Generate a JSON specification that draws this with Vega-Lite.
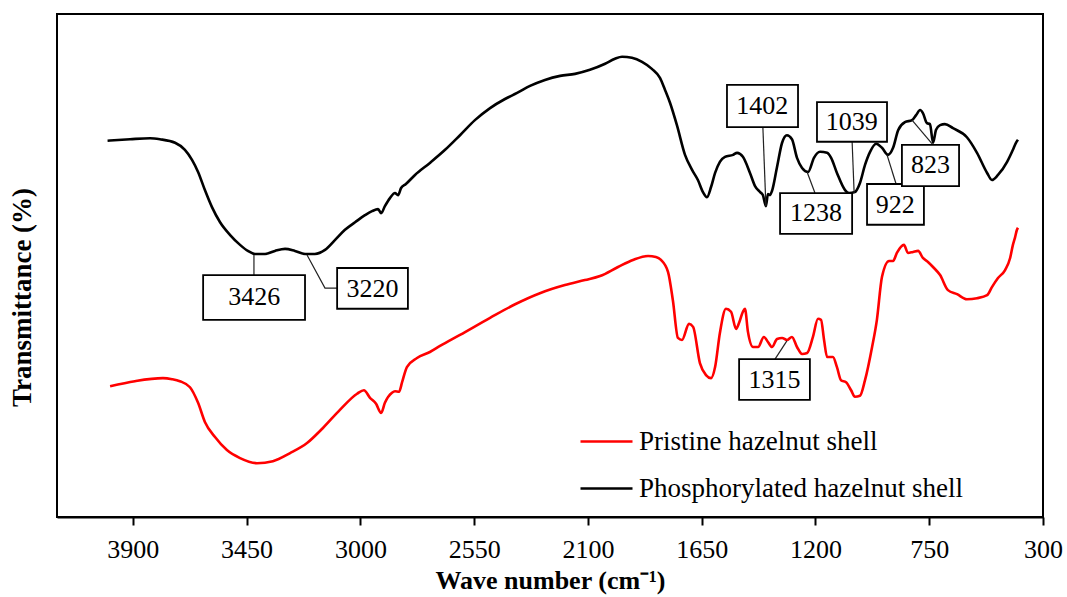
{
  "$schema": "https://vega.github.io/schema/vega-lite/v6.json",
  "width": 986,
  "height": 503,
  "autosize": {"type": "none"},
  "padding": {"left": 57, "top": 14, "right": 24, "bottom": 80},
  "background": "white",
  "config": {
    "view": {"stroke": "#000000", "strokeWidth": 2},
    "font": "Liberation Serif",
    "axis": {"grid": false, "labelFont": "Liberation Serif", "titleFont": "Liberation Serif", "labelColor": "#000000", "titleColor": "#000000"}
  },
  "datasets": {
    "spectra": [
      {"sample": "Phosphorylated hazelnut shell", "wn": 4000, "T": 74.8},
      {"sample": "Phosphorylated hazelnut shell", "wn": 3911, "T": 75.1},
      {"sample": "Phosphorylated hazelnut shell", "wn": 3832, "T": 75.3},
      {"sample": "Phosphorylated hazelnut shell", "wn": 3793, "T": 75.1},
      {"sample": "Phosphorylated hazelnut shell", "wn": 3733, "T": 74.4},
      {"sample": "Phosphorylated hazelnut shell", "wn": 3694, "T": 73.0},
      {"sample": "Phosphorylated hazelnut shell", "wn": 3666, "T": 71.0},
      {"sample": "Phosphorylated hazelnut shell", "wn": 3642, "T": 68.6},
      {"sample": "Phosphorylated hazelnut shell", "wn": 3615, "T": 65.0},
      {"sample": "Phosphorylated hazelnut shell", "wn": 3587, "T": 61.6},
      {"sample": "Phosphorylated hazelnut shell", "wn": 3555, "T": 58.6},
      {"sample": "Phosphorylated hazelnut shell", "wn": 3516, "T": 56.1},
      {"sample": "Phosphorylated hazelnut shell", "wn": 3476, "T": 54.1},
      {"sample": "Phosphorylated hazelnut shell", "wn": 3445, "T": 52.9},
      {"sample": "Phosphorylated hazelnut shell", "wn": 3417, "T": 52.3},
      {"sample": "Phosphorylated hazelnut shell", "wn": 3377, "T": 52.3},
      {"sample": "Phosphorylated hazelnut shell", "wn": 3338, "T": 52.9},
      {"sample": "Phosphorylated hazelnut shell", "wn": 3298, "T": 53.3},
      {"sample": "Phosphorylated hazelnut shell", "wn": 3259, "T": 52.9},
      {"sample": "Phosphorylated hazelnut shell", "wn": 3219, "T": 52.3},
      {"sample": "Phosphorylated hazelnut shell", "wn": 3180, "T": 52.3},
      {"sample": "Phosphorylated hazelnut shell", "wn": 3140, "T": 53.1},
      {"sample": "Phosphorylated hazelnut shell", "wn": 3100, "T": 55.1},
      {"sample": "Phosphorylated hazelnut shell", "wn": 3061, "T": 57.1},
      {"sample": "Phosphorylated hazelnut shell", "wn": 3021, "T": 58.6},
      {"sample": "Phosphorylated hazelnut shell", "wn": 2982, "T": 60.0},
      {"sample": "Phosphorylated hazelnut shell", "wn": 2954, "T": 60.8},
      {"sample": "Phosphorylated hazelnut shell", "wn": 2930, "T": 61.2},
      {"sample": "Phosphorylated hazelnut shell", "wn": 2918, "T": 60.4},
      {"sample": "Phosphorylated hazelnut shell", "wn": 2903, "T": 61.8},
      {"sample": "Phosphorylated hazelnut shell", "wn": 2883, "T": 63.4},
      {"sample": "Phosphorylated hazelnut shell", "wn": 2863, "T": 64.4},
      {"sample": "Phosphorylated hazelnut shell", "wn": 2851, "T": 64.0},
      {"sample": "Phosphorylated hazelnut shell", "wn": 2839, "T": 65.4},
      {"sample": "Phosphorylated hazelnut shell", "wn": 2820, "T": 66.2},
      {"sample": "Phosphorylated hazelnut shell", "wn": 2784, "T": 68.0},
      {"sample": "Phosphorylated hazelnut shell", "wn": 2725, "T": 70.4},
      {"sample": "Phosphorylated hazelnut shell", "wn": 2665, "T": 73.0},
      {"sample": "Phosphorylated hazelnut shell", "wn": 2606, "T": 75.9},
      {"sample": "Phosphorylated hazelnut shell", "wn": 2547, "T": 78.9},
      {"sample": "Phosphorylated hazelnut shell", "wn": 2487, "T": 81.3},
      {"sample": "Phosphorylated hazelnut shell", "wn": 2428, "T": 83.1},
      {"sample": "Phosphorylated hazelnut shell", "wn": 2380, "T": 84.3},
      {"sample": "Phosphorylated hazelnut shell", "wn": 2329, "T": 85.7},
      {"sample": "Phosphorylated hazelnut shell", "wn": 2270, "T": 86.9},
      {"sample": "Phosphorylated hazelnut shell", "wn": 2210, "T": 87.7},
      {"sample": "Phosphorylated hazelnut shell", "wn": 2151, "T": 88.1},
      {"sample": "Phosphorylated hazelnut shell", "wn": 2092, "T": 88.9},
      {"sample": "Phosphorylated hazelnut shell", "wn": 2032, "T": 90.1},
      {"sample": "Phosphorylated hazelnut shell", "wn": 1993, "T": 91.1},
      {"sample": "Phosphorylated hazelnut shell", "wn": 1965, "T": 91.5},
      {"sample": "Phosphorylated hazelnut shell", "wn": 1926, "T": 91.3},
      {"sample": "Phosphorylated hazelnut shell", "wn": 1886, "T": 90.5},
      {"sample": "Phosphorylated hazelnut shell", "wn": 1847, "T": 89.1},
      {"sample": "Phosphorylated hazelnut shell", "wn": 1815, "T": 87.3},
      {"sample": "Phosphorylated hazelnut shell", "wn": 1795, "T": 84.9},
      {"sample": "Phosphorylated hazelnut shell", "wn": 1775, "T": 82.3},
      {"sample": "Phosphorylated hazelnut shell", "wn": 1748, "T": 77.9},
      {"sample": "Phosphorylated hazelnut shell", "wn": 1716, "T": 72.0},
      {"sample": "Phosphorylated hazelnut shell", "wn": 1688, "T": 69.0},
      {"sample": "Phosphorylated hazelnut shell", "wn": 1665, "T": 67.0},
      {"sample": "Phosphorylated hazelnut shell", "wn": 1645, "T": 64.6},
      {"sample": "Phosphorylated hazelnut shell", "wn": 1629, "T": 63.6},
      {"sample": "Phosphorylated hazelnut shell", "wn": 1613, "T": 65.6},
      {"sample": "Phosphorylated hazelnut shell", "wn": 1597, "T": 68.4},
      {"sample": "Phosphorylated hazelnut shell", "wn": 1578, "T": 70.6},
      {"sample": "Phosphorylated hazelnut shell", "wn": 1558, "T": 71.6},
      {"sample": "Phosphorylated hazelnut shell", "wn": 1526, "T": 72.0},
      {"sample": "Phosphorylated hazelnut shell", "wn": 1510, "T": 72.4},
      {"sample": "Phosphorylated hazelnut shell", "wn": 1487, "T": 71.6},
      {"sample": "Phosphorylated hazelnut shell", "wn": 1459, "T": 68.4},
      {"sample": "Phosphorylated hazelnut shell", "wn": 1439, "T": 65.8},
      {"sample": "Phosphorylated hazelnut shell", "wn": 1419, "T": 64.6},
      {"sample": "Phosphorylated hazelnut shell", "wn": 1408, "T": 64.0},
      {"sample": "Phosphorylated hazelnut shell", "wn": 1396, "T": 61.8},
      {"sample": "Phosphorylated hazelnut shell", "wn": 1388, "T": 64.2},
      {"sample": "Phosphorylated hazelnut shell", "wn": 1380, "T": 64.0},
      {"sample": "Phosphorylated hazelnut shell", "wn": 1372, "T": 64.8},
      {"sample": "Phosphorylated hazelnut shell", "wn": 1352, "T": 69.6},
      {"sample": "Phosphorylated hazelnut shell", "wn": 1332, "T": 74.4},
      {"sample": "Phosphorylated hazelnut shell", "wn": 1313, "T": 75.9},
      {"sample": "Phosphorylated hazelnut shell", "wn": 1293, "T": 75.1},
      {"sample": "Phosphorylated hazelnut shell", "wn": 1273, "T": 71.4},
      {"sample": "Phosphorylated hazelnut shell", "wn": 1253, "T": 69.4},
      {"sample": "Phosphorylated hazelnut shell", "wn": 1229, "T": 68.6},
      {"sample": "Phosphorylated hazelnut shell", "wn": 1206, "T": 71.4},
      {"sample": "Phosphorylated hazelnut shell", "wn": 1182, "T": 72.6},
      {"sample": "Phosphorylated hazelnut shell", "wn": 1154, "T": 72.4},
      {"sample": "Phosphorylated hazelnut shell", "wn": 1138, "T": 71.4},
      {"sample": "Phosphorylated hazelnut shell", "wn": 1115, "T": 68.4},
      {"sample": "Phosphorylated hazelnut shell", "wn": 1083, "T": 65.0},
      {"sample": "Phosphorylated hazelnut shell", "wn": 1067, "T": 64.4},
      {"sample": "Phosphorylated hazelnut shell", "wn": 1044, "T": 64.6},
      {"sample": "Phosphorylated hazelnut shell", "wn": 1024, "T": 66.4},
      {"sample": "Phosphorylated hazelnut shell", "wn": 1004, "T": 70.0},
      {"sample": "Phosphorylated hazelnut shell", "wn": 984, "T": 72.6},
      {"sample": "Phosphorylated hazelnut shell", "wn": 960, "T": 74.2},
      {"sample": "Phosphorylated hazelnut shell", "wn": 937, "T": 73.4},
      {"sample": "Phosphorylated hazelnut shell", "wn": 913, "T": 72.0},
      {"sample": "Phosphorylated hazelnut shell", "wn": 893, "T": 73.4},
      {"sample": "Phosphorylated hazelnut shell", "wn": 873, "T": 76.9},
      {"sample": "Phosphorylated hazelnut shell", "wn": 846, "T": 78.5},
      {"sample": "Phosphorylated hazelnut shell", "wn": 818, "T": 78.9},
      {"sample": "Phosphorylated hazelnut shell", "wn": 802, "T": 79.9},
      {"sample": "Phosphorylated hazelnut shell", "wn": 786, "T": 80.9},
      {"sample": "Phosphorylated hazelnut shell", "wn": 775, "T": 80.3},
      {"sample": "Phosphorylated hazelnut shell", "wn": 759, "T": 78.3},
      {"sample": "Phosphorylated hazelnut shell", "wn": 747, "T": 78.1},
      {"sample": "Phosphorylated hazelnut shell", "wn": 735, "T": 74.4},
      {"sample": "Phosphorylated hazelnut shell", "wn": 723, "T": 77.0},
      {"sample": "Phosphorylated hazelnut shell", "wn": 707, "T": 77.9},
      {"sample": "Phosphorylated hazelnut shell", "wn": 688, "T": 78.1},
      {"sample": "Phosphorylated hazelnut shell", "wn": 656, "T": 77.3},
      {"sample": "Phosphorylated hazelnut shell", "wn": 601, "T": 75.5},
      {"sample": "Phosphorylated hazelnut shell", "wn": 561, "T": 72.4},
      {"sample": "Phosphorylated hazelnut shell", "wn": 521, "T": 68.4},
      {"sample": "Phosphorylated hazelnut shell", "wn": 502, "T": 67.0},
      {"sample": "Phosphorylated hazelnut shell", "wn": 478, "T": 68.0},
      {"sample": "Phosphorylated hazelnut shell", "wn": 442, "T": 70.6},
      {"sample": "Phosphorylated hazelnut shell", "wn": 419, "T": 73.0},
      {"sample": "Phosphorylated hazelnut shell", "wn": 407, "T": 74.4},
      {"sample": "Phosphorylated hazelnut shell", "wn": 399, "T": 75.0},

      {"sample": "Pristine hazelnut shell", "wn": 3990, "T": 26.0},
      {"sample": "Pristine hazelnut shell", "wn": 3892, "T": 27.0},
      {"sample": "Pristine hazelnut shell", "wn": 3781, "T": 27.6},
      {"sample": "Pristine hazelnut shell", "wn": 3745, "T": 27.4},
      {"sample": "Pristine hazelnut shell", "wn": 3714, "T": 27.0},
      {"sample": "Pristine hazelnut shell", "wn": 3674, "T": 25.8},
      {"sample": "Pristine hazelnut shell", "wn": 3642, "T": 22.7},
      {"sample": "Pristine hazelnut shell", "wn": 3615, "T": 18.9},
      {"sample": "Pristine hazelnut shell", "wn": 3575, "T": 15.9},
      {"sample": "Pristine hazelnut shell", "wn": 3528, "T": 13.3},
      {"sample": "Pristine hazelnut shell", "wn": 3476, "T": 11.7},
      {"sample": "Pristine hazelnut shell", "wn": 3409, "T": 10.7},
      {"sample": "Pristine hazelnut shell", "wn": 3346, "T": 11.1},
      {"sample": "Pristine hazelnut shell", "wn": 3278, "T": 12.7},
      {"sample": "Pristine hazelnut shell", "wn": 3211, "T": 14.7},
      {"sample": "Pristine hazelnut shell", "wn": 3148, "T": 17.7},
      {"sample": "Pristine hazelnut shell", "wn": 3081, "T": 21.3},
      {"sample": "Pristine hazelnut shell", "wn": 3013, "T": 24.5},
      {"sample": "Pristine hazelnut shell", "wn": 2986, "T": 25.2},
      {"sample": "Pristine hazelnut shell", "wn": 2962, "T": 23.7},
      {"sample": "Pristine hazelnut shell", "wn": 2938, "T": 22.5},
      {"sample": "Pristine hazelnut shell", "wn": 2918, "T": 20.7},
      {"sample": "Pristine hazelnut shell", "wn": 2903, "T": 22.7},
      {"sample": "Pristine hazelnut shell", "wn": 2875, "T": 24.7},
      {"sample": "Pristine hazelnut shell", "wn": 2863, "T": 25.0},
      {"sample": "Pristine hazelnut shell", "wn": 2847, "T": 24.9},
      {"sample": "Pristine hazelnut shell", "wn": 2835, "T": 26.8},
      {"sample": "Pristine hazelnut shell", "wn": 2816, "T": 29.8},
      {"sample": "Pristine hazelnut shell", "wn": 2776, "T": 31.6},
      {"sample": "Pristine hazelnut shell", "wn": 2725, "T": 32.8},
      {"sample": "Pristine hazelnut shell", "wn": 2685, "T": 34.0},
      {"sample": "Pristine hazelnut shell", "wn": 2606, "T": 36.2},
      {"sample": "Pristine hazelnut shell", "wn": 2487, "T": 39.6},
      {"sample": "Pristine hazelnut shell", "wn": 2388, "T": 42.3},
      {"sample": "Pristine hazelnut shell", "wn": 2290, "T": 44.5},
      {"sample": "Pristine hazelnut shell", "wn": 2191, "T": 46.1},
      {"sample": "Pristine hazelnut shell", "wn": 2112, "T": 47.1},
      {"sample": "Pristine hazelnut shell", "wn": 2052, "T": 47.9},
      {"sample": "Pristine hazelnut shell", "wn": 1981, "T": 49.7},
      {"sample": "Pristine hazelnut shell", "wn": 1922, "T": 51.1},
      {"sample": "Pristine hazelnut shell", "wn": 1862, "T": 51.9},
      {"sample": "Pristine hazelnut shell", "wn": 1831, "T": 51.7},
      {"sample": "Pristine hazelnut shell", "wn": 1811, "T": 51.1},
      {"sample": "Pristine hazelnut shell", "wn": 1783, "T": 48.7},
      {"sample": "Pristine hazelnut shell", "wn": 1764, "T": 43.1},
      {"sample": "Pristine hazelnut shell", "wn": 1744, "T": 35.6},
      {"sample": "Pristine hazelnut shell", "wn": 1728, "T": 35.2},
      {"sample": "Pristine hazelnut shell", "wn": 1700, "T": 38.4},
      {"sample": "Pristine hazelnut shell", "wn": 1684, "T": 37.8},
      {"sample": "Pristine hazelnut shell", "wn": 1657, "T": 30.6},
      {"sample": "Pristine hazelnut shell", "wn": 1633, "T": 28.2},
      {"sample": "Pristine hazelnut shell", "wn": 1613, "T": 27.6},
      {"sample": "Pristine hazelnut shell", "wn": 1597, "T": 29.8},
      {"sample": "Pristine hazelnut shell", "wn": 1578, "T": 36.6},
      {"sample": "Pristine hazelnut shell", "wn": 1554, "T": 41.4},
      {"sample": "Pristine hazelnut shell", "wn": 1534, "T": 40.8},
      {"sample": "Pristine hazelnut shell", "wn": 1514, "T": 37.4},
      {"sample": "Pristine hazelnut shell", "wn": 1502, "T": 38.6},
      {"sample": "Pristine hazelnut shell", "wn": 1487, "T": 40.8},
      {"sample": "Pristine hazelnut shell", "wn": 1479, "T": 41.4},
      {"sample": "Pristine hazelnut shell", "wn": 1467, "T": 36.8},
      {"sample": "Pristine hazelnut shell", "wn": 1447, "T": 33.8},
      {"sample": "Pristine hazelnut shell", "wn": 1427, "T": 33.8},
      {"sample": "Pristine hazelnut shell", "wn": 1404, "T": 35.8},
      {"sample": "Pristine hazelnut shell", "wn": 1388, "T": 34.8},
      {"sample": "Pristine hazelnut shell", "wn": 1372, "T": 33.8},
      {"sample": "Pristine hazelnut shell", "wn": 1352, "T": 35.4},
      {"sample": "Pristine hazelnut shell", "wn": 1332, "T": 35.6},
      {"sample": "Pristine hazelnut shell", "wn": 1313, "T": 35.2},
      {"sample": "Pristine hazelnut shell", "wn": 1293, "T": 35.8},
      {"sample": "Pristine hazelnut shell", "wn": 1273, "T": 33.8},
      {"sample": "Pristine hazelnut shell", "wn": 1253, "T": 32.4},
      {"sample": "Pristine hazelnut shell", "wn": 1233, "T": 32.6},
      {"sample": "Pristine hazelnut shell", "wn": 1210, "T": 35.8},
      {"sample": "Pristine hazelnut shell", "wn": 1190, "T": 39.4},
      {"sample": "Pristine hazelnut shell", "wn": 1178, "T": 39.2},
      {"sample": "Pristine hazelnut shell", "wn": 1166, "T": 35.2},
      {"sample": "Pristine hazelnut shell", "wn": 1154, "T": 31.8},
      {"sample": "Pristine hazelnut shell", "wn": 1131, "T": 31.8},
      {"sample": "Pristine hazelnut shell", "wn": 1115, "T": 29.8},
      {"sample": "Pristine hazelnut shell", "wn": 1099, "T": 27.2},
      {"sample": "Pristine hazelnut shell", "wn": 1079, "T": 26.8},
      {"sample": "Pristine hazelnut shell", "wn": 1059, "T": 25.2},
      {"sample": "Pristine hazelnut shell", "wn": 1044, "T": 23.9},
      {"sample": "Pristine hazelnut shell", "wn": 1024, "T": 24.1},
      {"sample": "Pristine hazelnut shell", "wn": 1004, "T": 27.2},
      {"sample": "Pristine hazelnut shell", "wn": 976, "T": 33.8},
      {"sample": "Pristine hazelnut shell", "wn": 957, "T": 39.2},
      {"sample": "Pristine hazelnut shell", "wn": 937, "T": 47.7},
      {"sample": "Pristine hazelnut shell", "wn": 909, "T": 50.9},
      {"sample": "Pristine hazelnut shell", "wn": 893, "T": 50.9},
      {"sample": "Pristine hazelnut shell", "wn": 878, "T": 52.5},
      {"sample": "Pristine hazelnut shell", "wn": 850, "T": 54.1},
      {"sample": "Pristine hazelnut shell", "wn": 834, "T": 52.5},
      {"sample": "Pristine hazelnut shell", "wn": 814, "T": 52.7},
      {"sample": "Pristine hazelnut shell", "wn": 794, "T": 52.9},
      {"sample": "Pristine hazelnut shell", "wn": 775, "T": 51.5},
      {"sample": "Pristine hazelnut shell", "wn": 755, "T": 50.7},
      {"sample": "Pristine hazelnut shell", "wn": 735, "T": 49.7},
      {"sample": "Pristine hazelnut shell", "wn": 707, "T": 48.1},
      {"sample": "Pristine hazelnut shell", "wn": 676, "T": 45.1},
      {"sample": "Pristine hazelnut shell", "wn": 640, "T": 44.3},
      {"sample": "Pristine hazelnut shell", "wn": 601, "T": 43.3},
      {"sample": "Pristine hazelnut shell", "wn": 561, "T": 43.5},
      {"sample": "Pristine hazelnut shell", "wn": 521, "T": 44.1},
      {"sample": "Pristine hazelnut shell", "wn": 502, "T": 45.7},
      {"sample": "Pristine hazelnut shell", "wn": 478, "T": 47.5},
      {"sample": "Pristine hazelnut shell", "wn": 450, "T": 49.1},
      {"sample": "Pristine hazelnut shell", "wn": 430, "T": 51.5},
      {"sample": "Pristine hazelnut shell", "wn": 419, "T": 54.1},
      {"sample": "Pristine hazelnut shell", "wn": 411, "T": 55.5},
      {"sample": "Pristine hazelnut shell", "wn": 403, "T": 57.1},
      {"sample": "Pristine hazelnut shell", "wn": 399, "T": 57.5}
    ],
    "peaks": [
      {"label": "3426", "wn": 3420, "T": 43.7, "wn1": 3622, "wn2": 3219, "T1": 48.1, "T2": 39.2},
      {"label": "3220", "wn": 2952, "T": 45.4, "wn1": 3092, "wn2": 2812, "T1": 49.5, "T2": 41.4},
      {"label": "1402", "wn": 1410, "T": 81.7, "wn1": 1550, "wn2": 1269, "T1": 85.9, "T2": 77.5},
      {"label": "1039", "wn": 1056, "T": 78.5, "wn1": 1194, "wn2": 917, "T1": 82.5, "T2": 74.6},
      {"label": "1238", "wn": 1198, "T": 60.4, "wn1": 1340, "wn2": 1055, "T1": 64.4, "T2": 56.3},
      {"label": "922", "wn": 884, "T": 62.1, "wn1": 996, "wn2": 771, "T1": 66.2, "T2": 58.1},
      {"label": "823", "wn": 745, "T": 69.9, "wn1": 858, "wn2": 632, "T1": 74.0, "T2": 65.8},
      {"label": "1315", "wn": 1362, "T": 27.3, "wn1": 1502, "wn2": 1222, "T1": 31.4, "T2": 23.3}
    ],
    "leaders": [
      {"label": "3426", "k": 0, "wn": 3421, "T": 52.1},
      {"label": "3426", "k": 1, "wn": 3421, "T": 48.1},
      {"label": "3220", "k": 0, "wn": 3211, "T": 52.1},
      {"label": "3220", "k": 1, "wn": 3140, "T": 45.5},
      {"label": "3220", "k": 2, "wn": 3092, "T": 45.5},
      {"label": "1402", "k": 0, "wn": 1408, "T": 77.5},
      {"label": "1402", "k": 1, "wn": 1396, "T": 61.8},
      {"label": "1039", "k": 0, "wn": 1055, "T": 74.6},
      {"label": "1039", "k": 1, "wn": 1047, "T": 64.4},
      {"label": "1238", "k": 0, "wn": 1202, "T": 64.4},
      {"label": "1238", "k": 1, "wn": 1233, "T": 68.6},
      {"label": "922", "k": 0, "wn": 881, "T": 66.2},
      {"label": "922", "k": 1, "wn": 917, "T": 72.0},
      {"label": "823", "k": 0, "wn": 735, "T": 74.0},
      {"label": "823", "k": 1, "wn": 818, "T": 78.9},
      {"label": "1315", "k": 0, "wn": 1360, "T": 31.4},
      {"label": "1315", "k": 1, "wn": 1313, "T": 35.0}
    ]
  },
  "layer": [
    {
      "data": {"name": "spectra"},
      "mark": {"type": "line", "strokeWidth": 2.6, "interpolate": "monotone"},
      "encoding": {
        "x": {
          "field": "wn",
          "type": "quantitative",
          "scale": {"domain": [300, 4200], "reverse": true, "nice": false, "zero": false},
          "axis": {
            "values": [3900, 3450, 3000, 2550, 2100, 1650, 1200, 750, 300],
            "format": "d",
            "title": "Wave number (cm⁻¹)",
            "titleFontSize": 26,
            "titleFontWeight": "bold",
            "titlePadding": 5,
            "labelFontSize": 26,
            "labelPadding": 11,
            "labelFlush": false,
            "labelOverlap": false,
            "tickSize": 8,
            "tickWidth": 2,
            "tickColor": "#000000",
            "domainColor": "#000000",
            "domainWidth": 2
          }
        },
        "y": {
          "field": "T",
          "type": "quantitative",
          "scale": {"domain": [0, 100], "nice": false, "zero": false},
          "axis": {
            "title": "Transmittance (%)",
            "titleFontSize": 27,
            "titleFontWeight": "bold",
            "titleX": -35,
            "titleY": 283,
            "titleAlign": "center",
            "titleBaseline": "middle",
            "titleAngle": -90,
            "labels": false,
            "ticks": false,
            "domain": false
          }
        },
        "color": {
          "field": "sample",
          "type": "nominal",
          "scale": {"domain": ["Pristine hazelnut shell", "Phosphorylated hazelnut shell"], "range": ["#ff0000", "#000000"]},
          "legend": {
            "title": null,
            "orient": "none",
            "legendX": 522,
            "legendY": 400,
            "padding": 0,
            "symbolType": "stroke",
            "symbolSize": 2704,
            "symbolStrokeWidth": 2.6,
            "labelFontSize": 27,
            "labelFont": "Liberation Serif",
            "labelColor": "#000000",
            "labelOffset": 5,
            "rowPadding": 6,
            "labelLimit": 500
          }
        }
      }
    },
    {
      "data": {"name": "leaders"},
      "mark": {"type": "line", "stroke": "#222222", "strokeWidth": 1.2},
      "encoding": {
        "x": {"field": "wn", "type": "quantitative"},
        "y": {"field": "T", "type": "quantitative"},
        "detail": {"field": "label"},
        "order": {"field": "k"}
      }
    },
    {
      "data": {"name": "peaks"},
      "mark": {"type": "rect", "fill": "#ffffff", "stroke": "#000000", "strokeWidth": 1.8},
      "encoding": {
        "x": {"field": "wn1", "type": "quantitative"},
        "x2": {"field": "wn2"},
        "y": {"field": "T1", "type": "quantitative"},
        "y2": {"field": "T2"}
      }
    },
    {
      "data": {"name": "peaks"},
      "mark": {"type": "text", "font": "Liberation Serif", "fontSize": 26, "align": "center", "baseline": "middle", "color": "#000000"},
      "encoding": {
        "x": {"field": "wn", "type": "quantitative"},
        "y": {"field": "T", "type": "quantitative"},
        "text": {"field": "label"}
      }
    }
  ]
}
